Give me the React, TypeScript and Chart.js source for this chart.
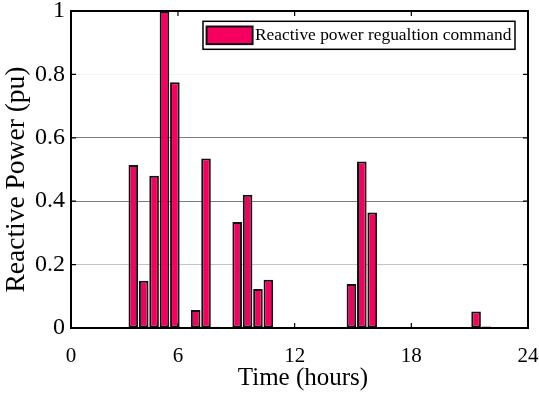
import { useEffect, useRef } from "react";
import { Chart, registerables } from "chart.js";

Chart.register(...registerables);

// Sample times (hours) of the regulation schedule
const hours = [
  0.5, 1.034, 1.568, 2.102, 2.636, 3.17, 3.705, 4.239, 4.773, 5.307,
  5.841, 6.375, 6.909, 7.443, 7.977, 8.511, 9.045, 9.58, 10.114, 10.648,
  11.182, 11.716, 12.25, 12.784, 13.318, 13.852, 14.386, 14.92, 15.455, 15.989,
  16.523, 17.057, 17.591, 18.125, 18.659, 19.193, 19.727, 20.261, 20.795, 21.33,
  21.864, 22.398, 22.932, 23.466, 24.0,
];

// Reactive power regulation command (pu)
const reactivePower = [
  0, 0, 0, 0, 0, 0, 0.514, 0.149, 0.48, 1.0,
  0.775, 0, 0.057, 0.535, 0.004, 0, 0.334, 0.42, 0.123, 0.152,
  0, 0, 0, 0, 0, 0, 0, 0.139, 0.525, 0.364,
  0, 0, 0, 0, 0, 0, 0, 0, 0.002, 0.052,
  0.005, 0, 0, 0, 0,
];

const xTickHours = [0.5, 6, 12, 18, 24];
const xTickLabels = ["0", "6", "12", "18", "24"];
const yTicks = [0, 0.2, 0.4, 0.6, 0.8, 1];

const seriesLabel = "Reactive power regualtion command";
const xTitle = "Time (hours)";
const yTitle = "Reactive Power (pu)";
const barFill = "#f5005f";
const barEdge = "#111111";
const serif = "'Liberation Serif', 'Times New Roman', serif";

// Grid shades per level (the 0.8 line is barely visible)
const gridShade = (v: number) => {
  if (Math.abs(v - 0.2) < 1e-6) return "#c4c4c4";
  if (Math.abs(v - 0.4) < 1e-6 || Math.abs(v - 0.6) < 1e-6) return "#7c7c7c";
  if (Math.abs(v - 0.8) < 1e-6) return "#f4f4f4";
  return "rgba(0,0,0,0)";
};

// Box frame, inward ticks on all four sides, axis titles and the in-plot legend
const framePlugin = {
  id: "matlabFrame",
  afterDatasetsDraw(chart: any) {
    const { ctx, chartArea: a, scales } = chart;
    const xs = scales.x;
    const ys = scales.y;
    ctx.save();
    ctx.strokeStyle = "#000";
    ctx.lineWidth = 1.2;
    const tl = 5;
    ctx.beginPath();
    xTickHours.forEach((v) => {
      const px = xs.getPixelForValue(v);
      ctx.moveTo(px, a.bottom);
      ctx.lineTo(px, a.bottom - tl);
      ctx.moveTo(px, a.top);
      ctx.lineTo(px, a.top + tl);
    });
    yTicks.forEach((v) => {
      const py = ys.getPixelForValue(v);
      ctx.moveTo(a.left, py);
      ctx.lineTo(a.left + tl, py);
      ctx.moveTo(a.right, py);
      ctx.lineTo(a.right - tl, py);
    });
    ctx.stroke();

    ctx.lineWidth = 2;
    ctx.strokeRect(a.left, a.top, a.right - a.left, a.bottom - a.top);

    // Axis titles
    ctx.fillStyle = "#000";
    ctx.textAlign = "center";
    ctx.textBaseline = "middle";
    ctx.font = `25px ${serif}`;
    ctx.fillText(xTitle, (a.left + a.right) / 2 + 3.5, a.bottom + 50);
    ctx.save();
    ctx.translate(a.left - 54, (a.top + a.bottom) / 2 + 10);
    ctx.rotate(-Math.PI / 2);
    ctx.font = `27.5px ${serif}`;
    ctx.fillText(yTitle, 0, 0);
    ctx.restore();

    // Legend
    ctx.font = `17.4px ${serif}`;
    const tw = ctx.measureText(seriesLabel).width;
    const swW = 46;
    const swH = 17.6;
    const boxW = 3.6 + swW + 2.4 + tw + 3.6;
    const boxH = 28;
    const boxR = a.right - 13;
    const boxL = boxR - boxW;
    const boxT = a.top + 10.3;
    ctx.fillStyle = "#fff";
    ctx.fillRect(boxL, boxT, boxW, boxH);
    ctx.lineWidth = 1.5;
    ctx.strokeStyle = "#000";
    ctx.strokeRect(boxL, boxT, boxW, boxH);
    const swL = boxL + 3.6;
    const swT = boxT + (boxH - swH) / 2;
    ctx.fillStyle = barFill;
    ctx.fillRect(swL, swT, swW, swH);
    ctx.lineWidth = 2;
    ctx.strokeStyle = barEdge;
    ctx.strokeRect(swL, swT, swW, swH);
    ctx.fillStyle = "#000";
    ctx.textBaseline = "middle";
    ctx.textAlign = "left";
    ctx.fillText(seriesLabel, swL + swW + 2.4, boxT + boxH / 2 + 0.5);
    ctx.restore();
  },
};

export default function App() {
  const canvasRef = useRef<HTMLCanvasElement | null>(null);

  useEffect(() => {
    const canvas = canvasRef.current;
    if (!canvas) return;
    const chart = new Chart(canvas, {
      type: "bar",
      data: {
        datasets: [
          {
            label: seriesLabel,
            data: hours.map((h, i) => ({ x: h, y: reactivePower[i] })),
            backgroundColor: barFill,
            borderColor: barEdge,
            borderWidth: 2,
            borderSkipped: false,
            barThickness: 9.6,
            inflateAmount: 0,
          } as any,
        ],
      },
      options: {
        animation: false,
        responsive: false,
        devicePixelRatio: 1,
        events: [],
        layout: { padding: { top: 11, right: 11, left: 0, bottom: 0 } },
        plugins: {
          legend: { display: false },
          tooltip: { enabled: false },
        },
        scales: {
          x: {
            type: "linear",
            min: 0.5,
            max: 24,
            offset: false,
            grid: { display: false },
            border: { display: false },
            afterBuildTicks: (scale: any) => {
              scale.ticks = xTickHours.map((v) => ({ value: v }));
            },
            afterFit: (scale: any) => {
              scale.height = 67;
              scale.paddingLeft = 0;
              scale.paddingRight = 0;
            },
            ticks: {
              autoSkip: false,
              maxRotation: 0,
              padding: 8,
              color: "#000",
              font: { family: serif, size: 21 },
              callback: (_v: any, i: number) => xTickLabels[i],
            },
          },
          y: {
            type: "linear",
            min: 0,
            max: 1,
            grid: {
              drawTicks: false,
              lineWidth: 1,
              color: (c: any) => gridShade(c.tick ? c.tick.value : 0),
            },
            border: { display: false },
            afterBuildTicks: (scale: any) => {
              scale.ticks = yTicks.map((v) => ({ value: v }));
            },
            afterFit: (scale: any) => {
              scale.width = 71;
              scale.paddingTop = 0;
              scale.paddingBottom = 0;
            },
            ticks: {
              padding: 6,
              color: "#000",
              font: { family: serif, size: 24 },
              callback: (v: any) => String(Number(Number(v).toFixed(1))),
            },
          },
        },
      },
      plugins: [framePlugin],
    });
    return () => chart.destroy();
  }, []);

  return (
    <div style={{ position: "absolute", left: 0, top: 0, width: 539, height: 395, background: "#fff" }}>
      <canvas ref={canvasRef} width={539} height={395} style={{ display: "block" }} />
    </div>
  );
}
